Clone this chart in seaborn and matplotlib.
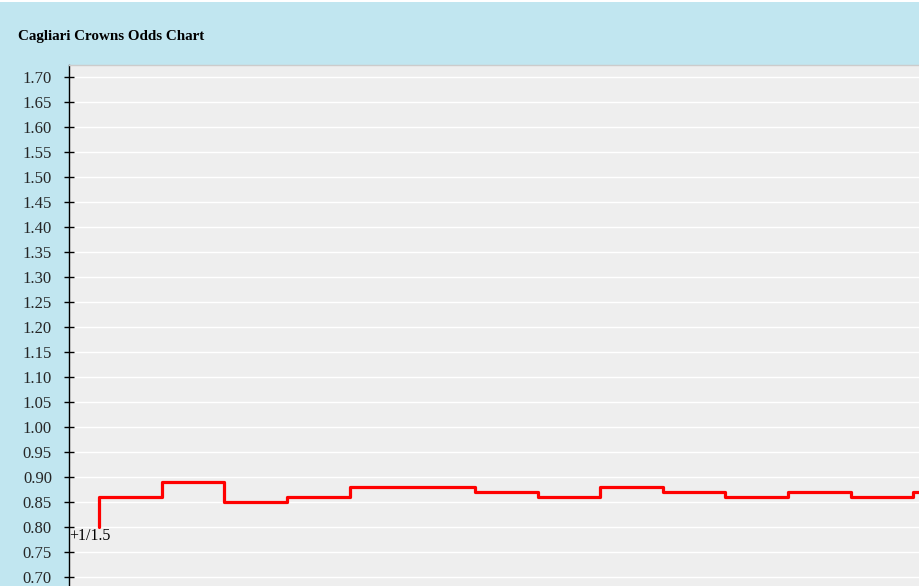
import matplotlib
matplotlib.use("Agg")
import matplotlib.pyplot as plt
import seaborn as sns
import pandas as pd
from matplotlib.patches import Rectangle

# odds history (step index -> odds value)
steps = list(range(15))
odds = [0.80, 0.86, 0.89, 0.85, 0.86, 0.88, 0.88, 0.87, 0.86, 0.88, 0.87, 0.86, 0.87, 0.86, 0.87]
y_ticks = [round(0.70 + 0.05 * i, 2) for i in range(21)]
title = "Cagliari Crowns Odds Chart"
start_label = "+1/1.5"

sns.set_theme(style="white")
plt.rcParams['font.family'] = ['Liberation Serif', 'DejaVu Serif']

W, H = 920, 586
fig = plt.figure(figsize=(W / 100, H / 100), dpi=100)
fig.patch.set_facecolor("#c1e6f0")
# thin white strip along the very top
fig.patches.append(Rectangle((0, (H - 2) / H), 1, 2 / H, transform=fig.transFigure,
                             facecolor="white", edgecolor="none", zorder=-1))

ax = fig.add_axes([69 / W, 0, (W - 69) / W + 0.002, (H - 65) / H])
ax.set_facecolor("#eeeeee")

df = pd.DataFrame({"step": steps, "odds": odds})
sns.lineplot(data=df, x="step", y="odds", ax=ax, color="#ff0000",
             linewidth=2.3, drawstyle="steps-pre", zorder=3)

ax.text(-0.47, 0.798, start_label, fontsize=11.5, va="top", ha="left", color="black")

ax.set_xlim(-0.48, (W - 99) / 62.5)
ax.set_ylim(0.6826, 1.724)
ax.set_yticks(y_ticks)
ax.set_yticklabels([f"{v:.2f}" for v in y_ticks])
ax.set_xticks([])
ax.set_xlabel("")
ax.set_ylabel("")
ax.grid(axis="y", color="white", linewidth=1.0)
ax.tick_params(axis="y", direction="inout", length=6.5, width=1, color="black",
               labelsize=12, pad=9, left=True)

for s in ["right", "bottom"]:
    ax.spines[s].set_visible(False)
ax.spines["left"].set_color("black")
ax.spines["left"].set_linewidth(1)
ax.spines["top"].set_color("#cccccc")
ax.spines["top"].set_linewidth(1)

fig.text(18 / W, 1 - 36.5 / H, title, fontsize=10.8, fontweight="bold",
         va="center", ha="left", color="black")

fig.savefig("out.png", dpi=100, facecolor=fig.get_facecolor())
